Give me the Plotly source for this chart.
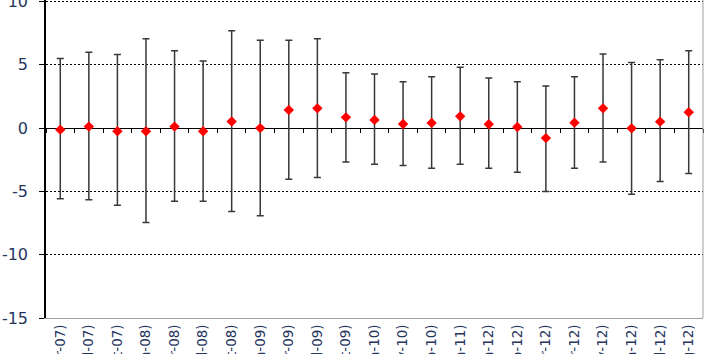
import plotly.graph_objects as go

categories = [
    "Q1 (Apr-07)", "Q2 (Jul-07)", "Q3 (Oct-07)",
    "Q4 (Jan-08)", "Q5 (Apr-08)", "Q6 (Jul-08)", "Q7 (Oct-08)",
    "Q8 (Jan-09)", "Q9 (Apr-09)", "Q10 (Jul-09)", "Q11 (Oct-09)",
    "Q12 (Jan-10)", "Q13 (May-10)", "Q14 (Sep-10)",
    "Q15 (Jan-11)",
    "M1 (Jan-12)", "M2 (Feb-12)", "M3 (Mar-12)", "M4 (Apr-12)",
    "M5 (May-12)", "M6 (Jun-12)", "M7 (Jul-12)", "M8 (Aug-12)",
]
means = [-0.12, 0.12, -0.25, -0.25, 0.12, -0.25, 0.52, 0.0, 1.43, 1.56, 0.85,
         0.65, 0.33, 0.41, 0.93, 0.30, 0.09, -0.79, 0.43, 1.56, -0.02, 0.51, 1.25]
upper = [5.5, 6.0, 5.82, 7.06, 6.11, 5.3, 7.69, 6.95, 6.95, 7.06, 4.38,
         4.27, 3.67, 4.06, 4.8, 3.96, 3.67, 3.33, 4.06, 5.85, 5.19, 5.4, 6.11]
lower = [-5.58, -5.66, -6.09, -7.45, -5.77, -5.77, -6.58, -6.93, -4.03, -3.9, -2.67,
         -2.85, -2.96, -3.17, -2.85, -3.17, -3.48, -5.0, -3.17, -2.67, -5.22, -4.22, -3.59]
y_ticks = [-15, -10, -5, 0, 5, 10]
y_tick_text = ["-15", "-10", "-5", "0", "5", "10"]

err_plus = [u - m for u, m in zip(upper, means)]
err_minus = [m - l for m, l in zip(means, lower)]

y_min, y_max = -15, 10.12

fig = go.Figure()
fig.add_trace(go.Scatter(
    x=categories, y=means, mode="markers",
    marker=dict(symbol="diamond", size=8, color="#ff0000", line=dict(width=0)),
    error_y=dict(type="data", symmetric=False, array=err_plus, arrayminus=err_minus,
                 color="#383838", thickness=1.5, width=3.5),
    showlegend=False,
))
# helper trace so the zero-line tick axis shares the categories
fig.add_trace(go.Scatter(
    x=categories, y=[None] * len(categories), xaxis="x2", mode="markers",
    showlegend=False, hoverinfo="skip",
))

label_color = "#26355e"
fig.update_layout(
    width=707, height=354,
    margin=dict(l=46, r=4, t=0, b=36),
    paper_bgcolor="white", plot_bgcolor="white",
    font=dict(family="DejaVu Sans", color=label_color),
    xaxis=dict(
        type="category", range=[-0.5, len(categories) - 0.5],
        showline=True, linecolor="#a0a0a0", linewidth=1,
        ticks="", tickangle=-90, tickfont=dict(size=13.5, color=label_color),
        ticklabeloverflow="allow",
        showgrid=False, zeroline=False, automargin=False,
    ),
    xaxis2=dict(
        type="category", overlaying="x", anchor="free",
        position=(0 - y_min) / (y_max - y_min),
        range=[-0.5, len(categories) - 0.5],
        showline=False, ticks="outside", ticklen=4, tickcolor="black", tickwidth=1,
        tickson="boundaries", showticklabels=False, showgrid=False, zeroline=False,
    ),
    yaxis=dict(
        range=[y_min, y_max], tickvals=y_ticks, ticktext=y_tick_text,
        showline=True, linecolor="black", linewidth=1.5,
        ticks="outside", ticklen=5, tickcolor="black", tickwidth=1,
        tickfont=dict(size=16, color=label_color), ticklabelstandoff=8,
        ticklabeloverflow="allow",
        showgrid=True, gridcolor="black", gridwidth=1, griddash="2px,2px",
        zeroline=True, zerolinecolor="black", zerolinewidth=1,
        automargin=False,
    ),
    shapes=[dict(type="line", xref="paper", yref="paper", x0=1, x1=1, y0=0, y1=1,
                 line=dict(color="#a0a0a0", width=1))],
)

fig.write_html("out.html")
